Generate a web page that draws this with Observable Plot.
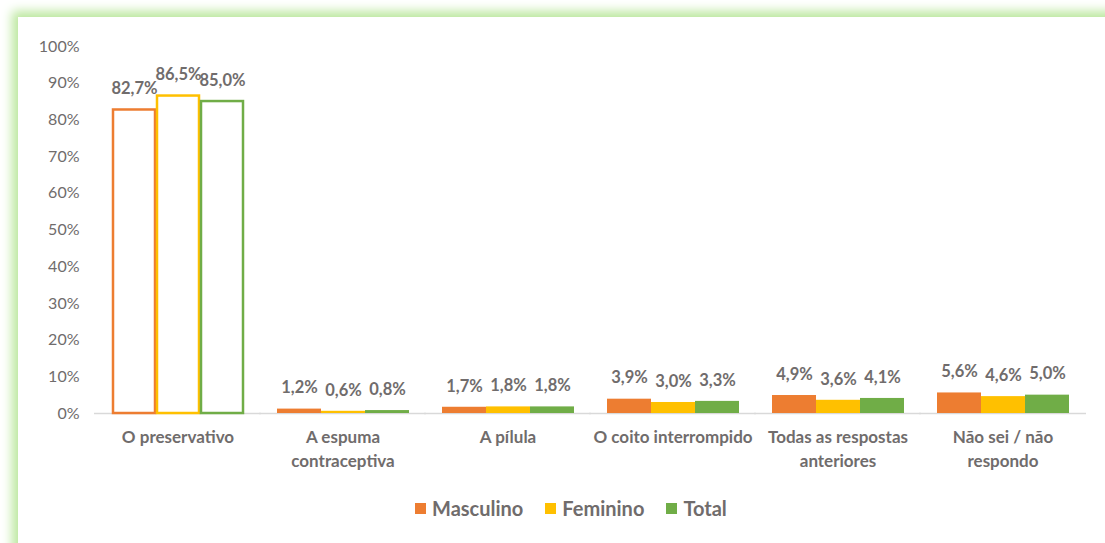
<!DOCTYPE html>
<html><head><meta charset="utf-8">
<script src="https://cdn.jsdelivr.net/npm/d3@7"></script>
<script src="https://cdn.jsdelivr.net/npm/@observablehq/plot@0.6"></script>
<style>
body{margin:0;width:1105px;height:543px;overflow:hidden;background:#fff;font-family:Lato,sans-serif;position:relative;}
#frame{position:absolute;left:18px;top:17px;width:1200px;height:700px;background:#fff;box-shadow:0 0 10px 6px #bde8a0;}
#chart{position:absolute;left:0;top:0;}
#legend{position:absolute;top:496px;left:415px;display:flex;align-items:center;font-weight:bold;font-size:20px;color:#706c6c;white-space:nowrap;}
#legend .item{display:flex;align-items:center;margin-right:22px;}
#legend .sw{width:11px;height:11px;margin-right:6px;}
</style></head>
<body>
<div id="frame"></div>
<div id="chart"></div>
<div id="legend"></div>
<script>
const categories = ["O preservativo","A espuma\ncontraceptiva","A pílula","O coito interrompido","Todas as respostas\nanteriores","Não sei / não\nrespondo"];
const series = ["Masculino","Feminino","Total"];
const masculino = [82.7, 1.2, 1.7, 3.9, 4.9, 5.6];
const feminino  = [86.5, 0.6, 1.8, 3.0, 3.6, 4.6];
const total     = [85.0, 0.8, 1.8, 3.3, 4.1, 5.0];
const yTicks = [0,10,20,30,40,50,60,70,80,90,100];
const colors = ["#ED7D31","#FFC000","#70AD47"];
const textColor = "#706c6c";

const valuesBySeries = [masculino, feminino, total];
const data = categories.flatMap((c,i)=>series.map((s,j)=>({category:c, series:s, value:valuesBySeries[j][i]})));
const outlined = data.filter(d=>d.category===categories[0]);
const filled = data.filter(d=>d.category!==categories[0]);
const fmt = v => v.toFixed(1).replace(".", ",") + "%";

const chart = Plot.plot({
  width:1105, height:543,
  marginTop:46, marginBottom:130, marginLeft:95, marginRight:20,
  style:{fontFamily:"Lato, sans-serif", background:"transparent", color:textColor, fontSize:"16px"},
  fx:{domain:categories, paddingInner:0.196, paddingOuter:0.0907, axis:null, label:null},
  x:{domain:series, padding:0, axis:null},
  y:{domain:[0,100], ticks:yTicks, tickFormat:d=>d+"%", tickSize:0, tickPadding:32, label:null},
  color:{domain:series, range:colors},
  marks:[
    Plot.ruleY([0], {stroke:"#d9d9d9", strokeWidth:1.5, insetLeft:-17, insetRight:-17}),
    Plot.barY(filled, {fx:"category", x:"series", y:"value", fill:"series"}),
    Plot.barY(outlined, {fx:"category", x:"series", y:"value", fill:"white", stroke:"series", strokeWidth:2.5, insetLeft:1, insetRight:1}),
    Plot.text(data, {fx:"category", x:"series", y:"value", text:d=>fmt(d.value), dy:-21, fontWeight:"bold", fill:textColor, fontSize:16.5}),
    Plot.text(categories, {fx:d=>d, text:d=>d, frameAnchor:"bottom", lineAnchor:"top", dy:12, lineHeight:1.42, fontWeight:"bold", fill:textColor, fontSize:17})
  ]
});
document.getElementById("chart").appendChild(chart);

const legend = document.getElementById("legend");
series.forEach((s,i)=>{
  const it = document.createElement("div"); it.className="item";
  const sw = document.createElement("div"); sw.className="sw"; sw.style.background=colors[i];
  const tx = document.createElement("span"); tx.textContent=s;
  it.appendChild(sw); it.appendChild(tx); legend.appendChild(it);
});
</script>
</body></html>
